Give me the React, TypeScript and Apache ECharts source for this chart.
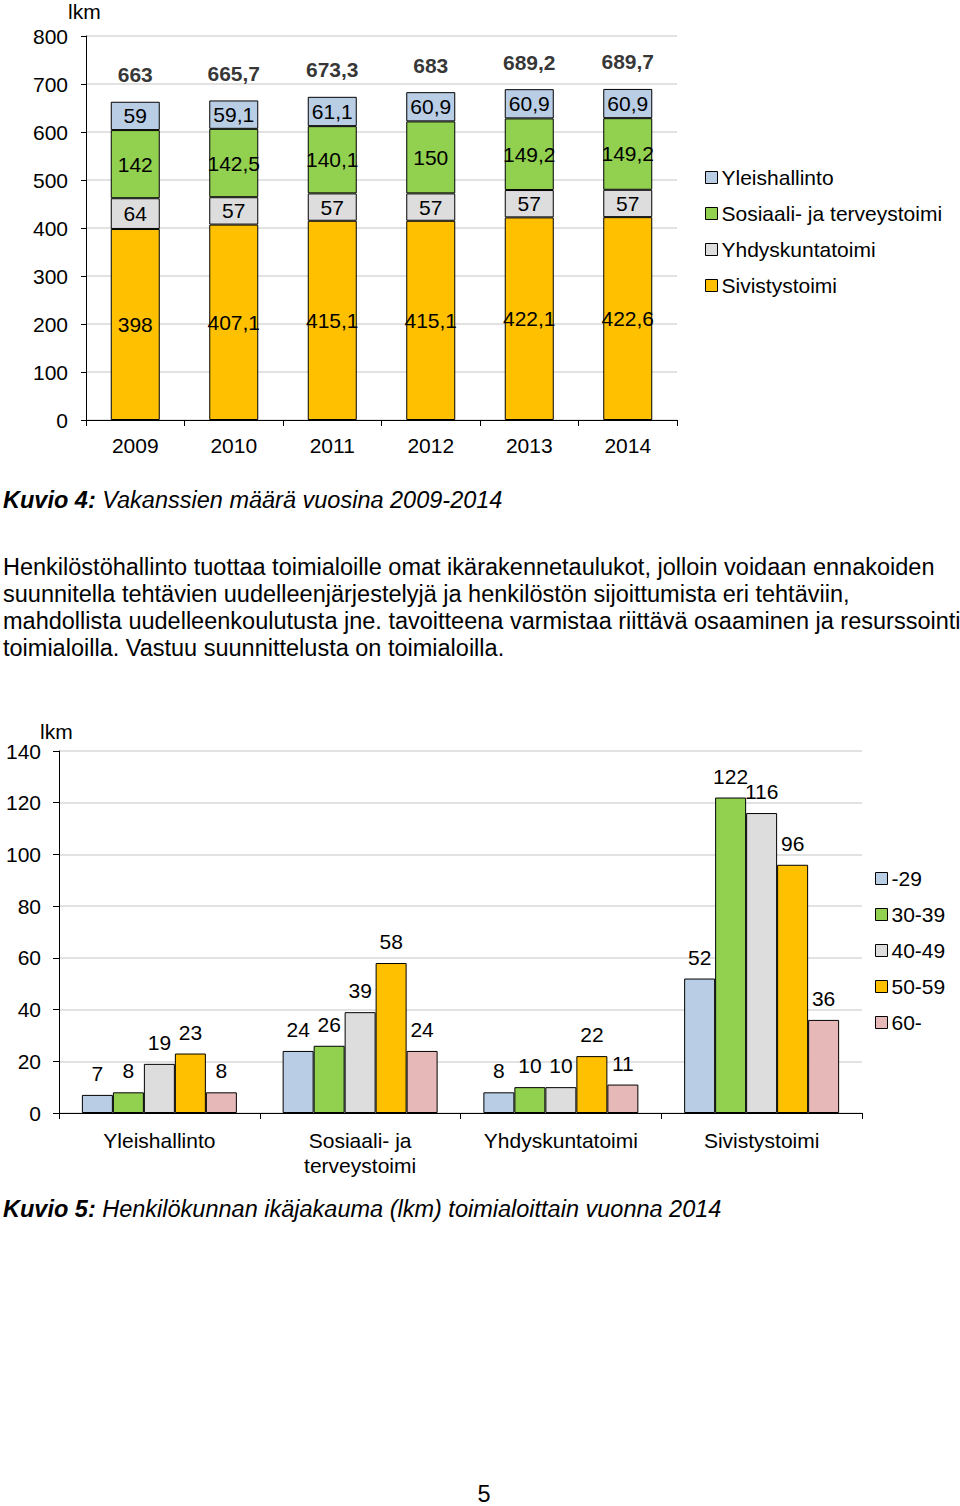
import React, { useEffect, useRef } from "react";
import * as echarts from "echarts";

const years = ["2009", "2010", "2011", "2012", "2013", "2014"];
const sivistys = [398, 407.1, 415.1, 415.1, 422.1, 422.6];
const yhdyskunta = [64, 57, 57, 57, 57, 57];
const sosiaali = [142, 142.5, 140.1, 150, 149.2, 149.2];
const yleis = [59, 59.1, 61.1, 60.9, 60.9, 60.9];
const totals = [663, 665.7, 673.3, 683, 689.2, 689.7];

const sectors = ["Yleishallinto", "Sosiaali- ja\nterveystoimi", "Yhdyskuntatoimi", "Sivistystoimi"];
const age29 = [7, 24, 8, 52];
const age30 = [8, 26, 10, 122];
const age40 = [19, 39, 10, 116];
const age50 = [23, 58, 22, 96];
const age60 = [8, 24, 11, 36];

const paragraph = [
  "Henkilöstöhallinto tuottaa toimialoille omat ikärakennetaulukot, jolloin voidaan ennakoiden",
  "suunnitella tehtävien uudelleenjärjestelyjä ja henkilöstön sijoittumista eri tehtäviin,",
  "mahdollista uudelleenkoulutusta jne. tavoitteena varmistaa riittävä osaaminen ja resurssointi",
  "toimialoilla. Vastuu suunnittelusta on toimialoilla.",
];

const FONT = "'Liberation Sans', Arial, sans-serif";
const FS = 21;
const TFS = 23.5;
const BLUE = "#B9CDE5";
const GREEN = "#92D050";
const GRAY = "#DDDDDD";
const YELLOW = "#FFC000";
const PINK = "#E6B9B8";

const fmt = (v: number) => String(v).replace(".", ",");

export default function App() {
  const ref = useRef<HTMLDivElement>(null);
  useEffect(() => {
    if (!ref.current) return;
    const chart = echarts.init(ref.current, undefined, { renderer: "svg" });
    const barStyle = (c: string) => ({ color: c, borderColor: "#000", borderWidth: 1 });
    const inLabel = {
      show: true,
      position: "inside" as const,
      fontSize: FS,
      fontFamily: FONT,
      color: "#000",
      formatter: (p: any) => fmt(p.value),
    };
    const topLabel = {
      show: true,
      position: "top" as const,
      distance: 11,
      fontSize: FS,
      fontFamily: FONT,
      color: "#000",
    };
    const stackSeries = (name: string, data: number[], c: string) => ({
      name,
      type: "bar",
      stack: "a",
      xAxisIndex: 0,
      yAxisIndex: 0,
      barWidth: 49,
      data,
      itemStyle: barStyle(c),
      label: inLabel,
    });
    const ageSeries = (name: string, data: number[], c: string) => ({
      name,
      type: "bar",
      xAxisIndex: 1,
      yAxisIndex: 1,
      barGap: "0%",
      barCategoryGap: "22.8%",
      data,
      itemStyle: barStyle(c),
      label: topLabel,
    });
    const axisTxt = { fontSize: FS, fontFamily: FONT, color: "#000" };
    const legendCommon = {
      orient: "vertical" as const,
      icon: "rect",
      padding: 0,
      itemWidth: 12,
      itemHeight: 12,
      itemGap: 15,
      itemStyle: { borderColor: "#000", borderWidth: 1 },
      textStyle: { fontSize: FS, fontFamily: FONT, color: "#000", lineHeight: 21, padding: [0, 0, 0, -1] },
      selectedMode: false,
    };
    const txt = (text: string, x: number, y: number, extra: any = {}) => ({
      type: "text",
      x,
      y,
      style: {
        text,
        fontSize: TFS,
        fontFamily: FONT,
        fill: "#000",
        verticalAlign: "middle",
        ...extra,
      },
    });
    const caption = (bold: string, rest: string, y: number) => ({
      type: "text",
      x: 3,
      y,
      style: {
        text: "{b|" + bold + "}" + "{i|" + rest + "}",
        verticalAlign: "middle",
        fill: "#000",
        rich: {
          b: { fontSize: TFS, fontFamily: FONT, fontStyle: "italic", fontWeight: "bold", fill: "#000" },
          i: { fontSize: TFS, fontFamily: FONT, fontStyle: "italic", fill: "#000" },
        },
      },
    });

    chart.setOption({
      animation: false,
      backgroundColor: "#fff",
      grid: [
        { left: 86, top: 36, width: 591, height: 384, containLabel: false },
        { left: 59, top: 751, width: 803, height: 362, containLabel: false },
      ],
      xAxis: [
        {
          type: "category",
          gridIndex: 0,
          data: years,
          axisLine: { lineStyle: { color: "#000", width: 1 } },
          axisTick: { show: true, length: 6, lineStyle: { color: "#000" } },
          axisLabel: { ...axisTxt, margin: 15 },
        },
        {
          type: "category",
          gridIndex: 1,
          data: sectors,
          axisLine: { lineStyle: { color: "#000", width: 1 } },
          axisTick: { show: true, length: 6, lineStyle: { color: "#000" } },
          axisLabel: { ...axisTxt, margin: 15, lineHeight: 25 },
        },
      ],
      yAxis: [
        {
          type: "value",
          gridIndex: 0,
          min: 0,
          max: 800,
          interval: 100,
          axisLine: { show: true, lineStyle: { color: "#000", width: 1 } },
          axisTick: { show: true, length: 5, lineStyle: { color: "#000" } },
          axisLabel: { ...axisTxt, margin: 18 },
          splitLine: { lineStyle: { color: "#D9D9D9", width: 1.5 } },
        },
        {
          type: "value",
          gridIndex: 1,
          min: 0,
          max: 140,
          interval: 20,
          axisLine: { show: true, lineStyle: { color: "#000", width: 1 } },
          axisTick: { show: true, length: 6, lineStyle: { color: "#000" } },
          axisLabel: { ...axisTxt, margin: 18 },
          splitLine: { lineStyle: { color: "#D9D9D9", width: 1.5 } },
        },
      ],
      legend: [
        {
          ...legendCommon,
          left: 705,
          top: 167,
          data: ["Yleishallinto", "Sosiaali- ja terveystoimi", "Yhdyskuntatoimi", "Sivistystoimi"],
        },
        {
          ...legendCommon,
          left: 875,
          top: 868,
          data: ["-29", "30-39", "40-49", "50-59", "60-"],
        },
      ],
      series: [
        stackSeries("Sivistystoimi", sivistys, YELLOW),
        stackSeries("Yhdyskuntatoimi", yhdyskunta, GRAY),
        stackSeries("Sosiaali- ja terveystoimi", sosiaali, GREEN),
        stackSeries("Yleishallinto", yleis, BLUE),
        {
          name: "Yhteensä",
          type: "scatter",
          xAxisIndex: 0,
          yAxisIndex: 0,
          data: totals,
          symbolSize: 1,
          itemStyle: { color: "rgba(0,0,0,0)" },
          silent: true,
          z: 10,
          label: {
            show: true,
            position: "top",
            distance: 16,
            fontSize: FS,
            fontFamily: FONT,
            fontWeight: "bold",
            color: "#000",
            formatter: (p: any) => fmt(totals[p.dataIndex]),
          },
        },
        ageSeries("-29", age29, BLUE),
        ageSeries("30-39", age30, GREEN),
        ageSeries("40-49", age40, GRAY),
        ageSeries("50-59", age50, YELLOW),
        ageSeries("60-", age60, PINK),
      ],
      graphic: [
        txt("lkm", 68, 11, { fontSize: FS }),
        txt("lkm", 40, 731, { fontSize: FS }),
        caption("Kuvio 4:", " Vakanssien määrä vuosina 2009-2014", 500),
        ...paragraph.map((line, i) => txt(line, 3, 567 + i * 27)),
        caption("Kuvio 5:", " Henkilökunnan ikäjakauma (lkm) toimialoittain vuonna 2014", 1209),
        txt("5", 484, 1494, { fontSize: TFS, align: "center" }),
      ],
    });
    return () => chart.dispose();
  }, []);
  return (
    <div
      ref={ref}
      style={{ position: "absolute", left: 0, top: 0, width: 960, height: 1506, background: "#fff" }}
    />
  );
}
